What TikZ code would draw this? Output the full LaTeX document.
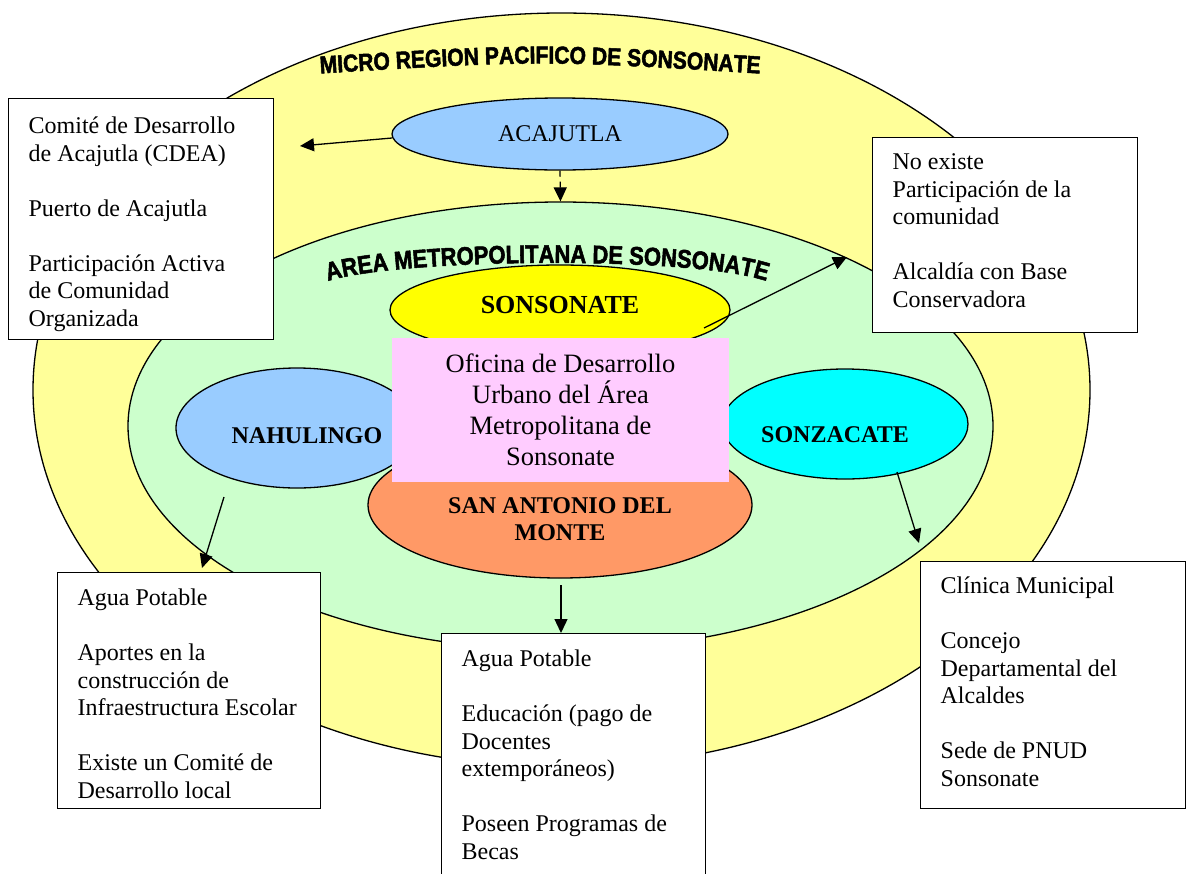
\documentclass[tikz,border=0pt]{standalone}
\usepackage{fontspec}
\setmainfont{Liberation Serif}
\newfontfamily\wordart{Liberation Sans Bold}[FakeStretch=0.86, FakeBold=2]
\usetikzlibrary{shapes.geometric,arrows.meta,decorations.text,calc}
\definecolor{outerY}{HTML}{FFFF99}
\definecolor{innerG}{HTML}{CCFFCC}
\definecolor{lblue}{HTML}{99CCFF}
\definecolor{yelc}{HTML}{FFFF00}
\definecolor{cyanc}{HTML}{00FFFF}
\definecolor{orangec}{HTML}{FF9966}
\definecolor{pinkc}{HTML}{FFCCFF}
\newcommand{\boxbody}[4]{\parbox[c][#2][t]{#1}{\vspace*{#3}\raggedright\leftskip=20pt\relax\fontsize{24}{27.5}\selectfont\strut #4\par}}
\tikzset{
  ell/.style={ellipse, draw, line width=1.3pt, inner sep=0pt},
  infobox/.style={draw, line width=1.3pt, fill=white, inner sep=0pt, anchor=north west},
  lbl/.style={font=\fontsize{24}{27.5}\selectfont\bfseries, align=center},
  arr/.style={line width=1.3pt, -{Triangle[length=14pt,width=13pt]}},
}
\begin{document}
\begin{tikzpicture}[x=1pt,y=-1pt]
\clip (0,0) rectangle (1186,873);
\fill[white] (0,0) rectangle (1186,873);
% regions
\node[ell, fill=outerY, minimum width=1057pt, minimum height=754pt] (micro) at (561.5,390) {};
\node[ell, fill=innerG, minimum width=865pt, minimum height=448pt] (area) at (560.5,426) {};
\path[decorate, decoration={text along path, text align=center,
  text={|\wordart\fontsize{24.5}{24.5}\selectfont|MICRO REGION PACIFICO DE SONSONATE}}]
  (312,74) .. controls (540,60) .. (768,74);
\path[decorate, decoration={text along path, text align=center,
  text={|\wordart\fontsize{25.5}{25.5}\selectfont|AREA METROPOLITANA DE SONSONATE}}]
  (318,285) .. controls (372,257) and (718,254) .. (776,285);
% municipalities
\node[ell, fill=lblue, minimum width=336pt, minimum height=72pt, font=\fontsize{24}{27.5}\selectfont] (acaj) at (560,134) {ACAJUTLA};
\node[ell, fill=yelc, minimum width=340pt, minimum height=90pt] (sons) at (560,310) {};
\node[ell, fill=lblue, minimum width=242pt, minimum height=120pt] (nahu) at (297,428) {};
\node[ell, fill=cyanc, minimum width=246pt, minimum height=110pt] (sonz) at (845,424) {};
\node[ell, fill=orangec, minimum width=384pt, minimum height=146pt] (sanan) at (560,505) {};
\node[fill=pinkc, minimum width=337pt, minimum height=144pt, inner sep=0pt,
  font=\fontsize{26.5}{31}\selectfont, align=center] (odu) at (560.5,410)
  {Oficina de Desarrollo\\Urbano del Área\\Metropolitana de\\Sonsonate};
\node[lbl, font=\fontsize{26}{28}\selectfont\bfseries] (sonsT) at (560,305) {SONSONATE};
\node[lbl] (nahuT) at (307,436) {NAHULINGO};
\node[lbl] (sonzT) at (835,435) {SONZACATE};
\node[lbl] (sananT) at (560,519) {SAN ANTONIO DEL\\MONTE};
% boxes
\node[infobox] (b1) at (8,98) {\boxbody{265pt}{241pt}{15.75pt}{Comité de Desarrollo\\de Acajutla (CDEA)\\[27.5pt]Puerto de Acajutla\\[27.5pt]Participación Activa\\de Comunidad\\Organizada}};
\node[infobox] (b2) at (872,137) {\boxbody{265pt}{195pt}{12.75pt}{No existe\\Participación de la\\comunidad\\[27.5pt]Alcaldía con Base\\Conservadora}};
\node[infobox] (b3) at (57,572) {\boxbody{263pt}{236pt}{13.75pt}{Agua Potable\\[27.5pt]Aportes en la\\construcción de\\Infraestructura Escolar\\[27.5pt]Existe un Comité de\\Desarrollo local}};
\node[infobox] (b4) at (441,633) {\boxbody{264pt}{260pt}{13.75pt}{Agua Potable\\[27.5pt]Educación (pago de\\Docentes\\extemporáneos)\\[27.5pt]Poseen Programas de\\Becas}};
\node[infobox] (b5) at (920,561) {\boxbody{265pt}{247pt}{12.75pt}{Clínica Municipal\\[27.5pt]Concejo\\Departamental del\\Alcaldes\\[27.5pt]Sede de PNUD\\Sonsonate}};
% connectors
\coordinate (a1) at (392,138);
\coordinate (a2) at (300,146);
\coordinate (s1) at (704,328);
\coordinate (s2) at (847,257);
\coordinate (n1) at (224,497);
\coordinate (n2) at (202,568);
\coordinate (m1) at (561,585);
\coordinate (z1) at (897,472);
\coordinate (z2) at (919,543);
\draw[arr] (a1) -- (a2);
\draw[arr, dash pattern=on 6pt off 5pt] (acaj.south) -- (area.north);
\draw[arr] (s1) -- (s2);
\draw[arr] (n1) -- (n2);
\draw[arr] (m1) -- (m1 |- b4.north);
\draw[arr] (z1) -- (z2);
\end{tikzpicture}
\end{document}
